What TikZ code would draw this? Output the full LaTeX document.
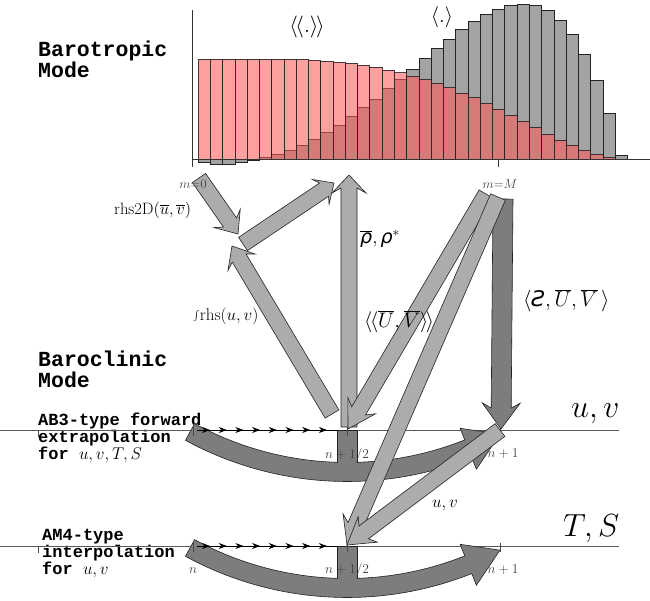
\RequirePackage{fix-cm}
\documentclass[tikz,border=0pt]{standalone}
\usepackage{fontspec}
\newfontfamily\monofont{Liberation Mono}
\newfontfamily\dejavu{DejaVu Sans}
\usetikzlibrary{calc,arrows.meta,decorations.markings}
\definecolor{barred}{RGB}{255,91,91}
\definecolor{bargray}{RGB}{163,163,163}
\definecolor{arrlight}{RGB}{172,172,172}
\definecolor{arrdark}{RGB}{125,125,125}
\definecolor{outl}{RGB}{35,35,35}
\tikzset{
  graybar/.style={fill=bargray, draw=outl, line width=0.6pt},
  redbar/.style={fill=barred, fill opacity=0.58, draw=outl, draw opacity=0.85, line width=0.6pt},
  axisline/.style={draw=black!80, line width=0.6pt},
  lightarr/.style={fill=arrlight, draw=outl, line width=0.6pt},
  darkarr/.style={fill=arrdark, draw=outl, line width=0.6pt},
  band/.style={fill=arrdark, draw=outl, line width=0.6pt},
  timeline/.style={draw=black!65, line width=0.8pt},
  tickmark/.style={draw=black!70, line width=0.5pt},
  seqline/.style={draw=black, line width=0.7pt,
    postaction={decorate, decoration={markings,
      mark=between positions 13pt and 131pt step 16.7pt with {\arrow{Stealth[length=8pt,width=6pt]}}}}},
  modetitle/.style={font=\monofont\bfseries\fontsize{21.5}{21.5}\selectfont, anchor=base west, inner sep=0},
  schemetext/.style={font=\monofont\bfseries\fontsize{17}{17}\selectfont, anchor=base west, inner sep=0},
  ticklabel/.style={font=\fontsize{13.5}{13.5}\selectfont, text=black!75, anchor=base, inner sep=0},
  mlabel/.style={font=\fontsize{13}{13}\selectfont, text=black!75, anchor=base, inner sep=0},
  flowlabel/.style={anchor=base west, inner sep=0},
}
\newcommand\barrow[7]{%
  \coordinate (bnk) at ($(#3)!#6!(#2)$);
  \coordinate (bbk) at ($(#3)!#7!(#2)$);
  \filldraw[#1] ($(#2)!#4!90:(#3)$) -- ($(bnk)!#4!90:(#3)$) -- ($(bbk)!#5!90:(#3)$) -- (#3)
     -- ($(bbk)!#5!-90:(#3)$) -- ($(bnk)!#4!-90:(#3)$) -- ($(#2)!#4!-90:(#3)$) -- cycle;}
\newcommand\timeband[1]{%
  \filldraw[band] plot[domain=118.6:68.3,samples=40] ({347+337.5*cos(\x)},{#1+337.5*sin(\x)})
    -- ({347+350*cos(68.3)},{#1+350*sin(68.3)})
    -- ({347+328*cos(62.2)},{#1+328*sin(62.2)})
    -- ({347+306*cos(68.3)},{#1+306*sin(68.3)})
    -- plot[domain=68.3:118.6,samples=40] ({347+318.5*cos(\x)},{#1+318.5*sin(\x)}) -- cycle;
  \fill[arrdark] (337.3,{#1+286}) rectangle (356.7,{#1+320});
  \draw[outl, line width=0.6pt] (337,{#1+318.6}) -- (337,{#1+286}) -- (357,{#1+286}) -- (357,{#1+318.6});}
\begin{document}
\begin{tikzpicture}[x=1pt,y=-1pt]
\useasboundingbox (0,0) rectangle (650,600);
% ---------- histogram ----------
\foreach \v [count=\i from 0] in {162.7,164,164,162,160,157.3,154,150,145,139.3,132.3,125,116.7,107.7,99,88.3,79,69,58.3,48.3,39,29.3,21,14.3,9.3,5.3,4,5.7,10.7,20.7,34.3,54,80,113.3,155.3}
  \filldraw[graybar] ({198+12.27*\i},159.3) rectangle ({198+12.27*(\i+1)},\v);
\foreach \v [count=\i from 0] in {59.3,59.3,59.3,59.3,59.3,59.3,59.3,59.3,59.3,60,61,62,63.3,65.3,67.3,70,72.7,76,79.3,83.3,87.7,93.3,97.7,103.3,109.3,115.3,121.3,127,134,140,145.3,150.7,154,157,159.3}
  \filldraw[redbar] ({198+12.27*\i},159.3) rectangle ({198+12.27*(\i+1)},\v);
\coordinate (axO) at (192,159.3);
\coordinate (axTop) at (192,10);
\coordinate (axRight) at (650,159.3);
\coordinate (axBot) at (192,167);
\coordinate (tickM) at (498,159.3);
\coordinate (tickMb) at (498,167);
\draw[axisline] (axTop) -- (axBot);
\draw[axisline] (axO) -- (axRight);
\draw[axisline] (tickM) -- (tickMb);
\node[font=\fontsize{22}{22}\selectfont, inner sep=0] (avg2) at (307,27) {$\langle\mkern-2mu\langle\mathbf{.}\rangle\mkern-2mu\rangle$};
\node[font=\fontsize{21}{21}\selectfont, inner sep=0] (avg1) at (442,17) {$\langle\mathbf{.}\rangle$};
% ---------- titles ----------
\node[modetitle] (bt1) at (38,56) {Barotropic};
\node[modetitle] (bt2) at (38,77) {Mode};
\node[modetitle] (bc1) at (38,366) {Baroclinic};
\node[modetitle] (bc2) at (38,387) {Mode};
\node[schemetext] (ab1) at (38,425) {AB3-type forward};
\node[schemetext] (ab2) at (38,442) {extrapolation};
\node[schemetext] (ab3) at (38,459) {for $u,v,T,S$};
\node[schemetext] (am1) at (42,540) {AM4-type};
\node[schemetext] (am2) at (42,557) {interpolation};
\node[schemetext] (am3) at (42,574) {for $u,v$};
% ---------- time lines ----------
\coordinate (uvL) at (0,430);
\coordinate (uvR) at (619,430);
\coordinate (tsL) at (0,546);
\coordinate (tsR) at (619,546);
\draw[timeline] (uvL) -- (uvR);
\draw[timeline] (tsL) -- (tsR);
\timeband{144}
\timeband{260}
\coordinate (nU) at (197,430);
\coordinate (hU) at (338,430);
\coordinate (nL) at (197,546);
\coordinate (hL) at (338,546);
\draw[seqline] (nU) -- (hU);
\draw[seqline] (nL) -- (hL);
\foreach \yy in {430,546} {
  \draw[tickmark] (38,\yy) -- (38,\yy+7);
  \draw[tickmark] (193,\yy-5) -- (193,\yy+6);
  \draw[tickmark] (347,\yy-3) -- (347,\yy+6);
  \draw[tickmark] (500,\yy-3) -- (500,\yy+6);
}
\node[ticklabel] (tUh) at (347,458) {$n+1/2$};
\node[ticklabel] (tU1) at (503,457) {$n+1$};
\node[ticklabel] (tLn) at (193,573) {$n$};
\node[ticklabel] (tLh) at (347,573) {$n+1/2$};
\node[ticklabel] (tL1) at (503,573) {$n+1$};
% ---------- flow arrows ----------
\coordinate (r2tail) at (199,178);
\coordinate (r2tip) at (238,234);
\coordinate (uptail) at (243,244);
\coordinate (uptip) at (334,183);
\coordinate (inttail) at (332,414);
\coordinate (inttip) at (232,246);
\coordinate (rhotail) at (349,427);
\coordinate (rhotip) at (349,175);
\coordinate (Mtail1) at (486,194);
\coordinate (uvhalf) at (348,429);
\coordinate (Mtail2) at (498,197);
\coordinate (tshalf) at (347,545);
\coordinate (uvone) at (500,430);
\coordinate (Mtail3) at (503,199);
\coordinate (uvonetip) at (501,429);
\barrow{darkarr}{Mtail3}{uvonetip}{10pt}{19pt}{21pt}{26pt}
\barrow{lightarr}{r2tail}{r2tip}{8pt}{16pt}{14pt}{19pt}
\barrow{lightarr}{uptail}{uptip}{8pt}{15pt}{12pt}{16pt}
\barrow{lightarr}{inttail}{inttip}{8pt}{16pt}{14pt}{19pt}
\barrow{lightarr}{rhotail}{rhotip}{8pt}{17pt}{13pt}{18pt}
\barrow{lightarr}{Mtail1}{uvhalf}{8pt}{16pt}{21pt}{27pt}
\barrow{lightarr}{Mtail2}{tshalf}{8pt}{16pt}{21pt}{27pt}
\barrow{lightarr}{uvone}{tshalf}{8pt}{16pt}{21pt}{26pt}
\node[mlabel] (m0) at (193,188) {$m{=}0$};
\node[mlabel] (mM) at (500,188) {$m{=}M$};
% ---------- flow labels ----------
\node[flowlabel, font=\fontsize{16.5}{16.5}\selectfont] (lrhs2d) at (114,214) {$\mathrm{rhs2D}(\overline{u},\overline{v})$};
\node[flowlabel, font=\fontsize{17}{17}\selectfont] (lint) at (193,320) {$\int\!\mathrm{rhs}(u,v)$};
\node[flowlabel, font=\fontsize{19}{19}\selectfont] (lrho) at (360,243) {$\overline{\hbox{\dejavu\itshape ρ}},\hbox{\dejavu\itshape ρ}^{*}$};
\node[flowlabel, font=\fontsize{21}{21}\selectfont] (lUV2) at (364,327) {$\langle\mkern-2mu\langle\overline{U},\overline{V}\rangle\mkern-2mu\rangle$};
\node[flowlabel, font=\fontsize{21.5}{21.5}\selectfont] (lUV1) at (523,306) {$\langle\hbox{\dejavu\itshape Ƨ},\overline{U},\overline{V}\,\rangle$};
\node[flowlabel, font=\fontsize{17}{17}\selectfont] (luv) at (432,507) {$u,v$};
\node[flowlabel, font=\fontsize{32}{32}\selectfont] (bigUV) at (571,417) {$u,v$};
\node[flowlabel, font=\fontsize{32}{32}\selectfont] (bigTS) at (563,536) {$T,S$};
\end{tikzpicture}
\end{document}
